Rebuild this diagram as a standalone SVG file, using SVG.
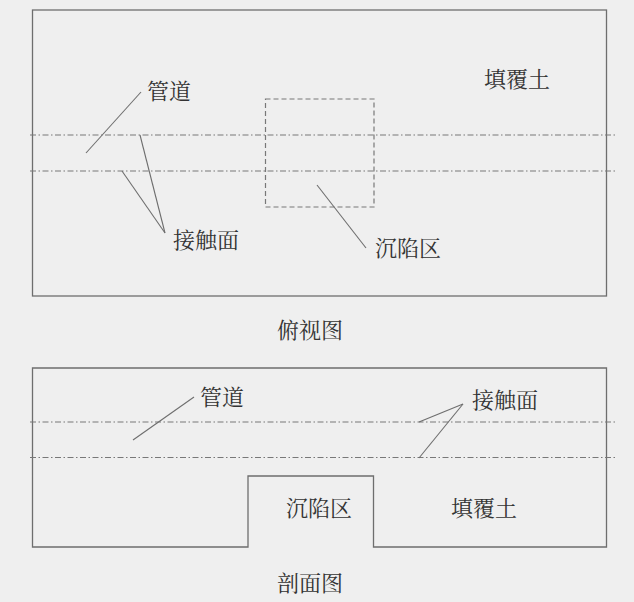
<svg xmlns="http://www.w3.org/2000/svg" width="634" height="602" viewBox="0 0 634 602">
<style>
.bg{fill:#efefef}
.outline{fill:none;stroke:#6e6e6e;stroke-width:1.3}
.dashdot{fill:none;stroke:#787878;stroke-width:1.2;stroke-dasharray:6,2.5,1.5,2.5}
.dashed{fill:none;stroke:#787878;stroke-width:1.2;stroke-dasharray:5,3}
.leader{fill:none;stroke:#6e6e6e;stroke-width:1.1}
text{font-family:"Liberation Serif","Noto Serif CJK SC","Noto Sans CJK SC",serif;font-size:22px;fill:#333}
</style>
<rect class="bg" x="0" y="0" width="634" height="602"/>
<g id="top-view">
  <rect class="outline" x="32.5" y="10" width="574" height="286"/>
  <line class="dashdot" x1="30" y1="135" x2="616" y2="135"/>
  <line class="dashdot" x1="30" y1="171" x2="616" y2="171"/>
  <rect id="subsidence-top" class="dashed" x="265.5" y="99" width="108.5" height="108"/>
</g>
<g id="section-view">
  <path class="outline" d="M32.5,368 H606.5 V547 H373.5 V476 H248 V547 H32.5 Z"/>
  <line class="dashdot" x1="30" y1="422" x2="616" y2="422"/>
  <line class="dashdot" x1="30" y1="457.5" x2="616" y2="457.5"/>
</g>
<g id="connectors">
  <line class="leader" x1="86" y1="153" x2="141" y2="92"/>
  <line class="leader" x1="140" y1="135" x2="165" y2="233"/>
  <line class="leader" x1="122" y1="171" x2="165" y2="233"/>
  <line class="leader" x1="317" y1="185" x2="366" y2="248"/>
  <line class="leader" x1="133" y1="440" x2="194" y2="397"/>
  <line class="leader" x1="419" y1="422" x2="463" y2="404"/>
  <line class="leader" x1="419" y1="458" x2="463" y2="404"/>
</g>
<g id="labels">
  <text id="t-pipe1" x="147" y="99">管道</text>
  <text id="t-contact1" x="173" y="248">接触面</text>
  <text id="t-fill1" x="484" y="87">填覆土</text>
  <text id="t-sub1" x="375" y="256">沉陷区</text>
  <text id="t-topview" x="277" y="338">俯视图</text>
  <text id="t-pipe2" x="200" y="405">管道</text>
  <text id="t-contact2" x="472" y="408">接触面</text>
  <text id="t-sub2" x="286" y="516">沉陷区</text>
  <text id="t-fill2" x="451" y="516">填覆土</text>
  <text id="t-section" x="277" y="591">剖面图</text>
</g>
</svg>
